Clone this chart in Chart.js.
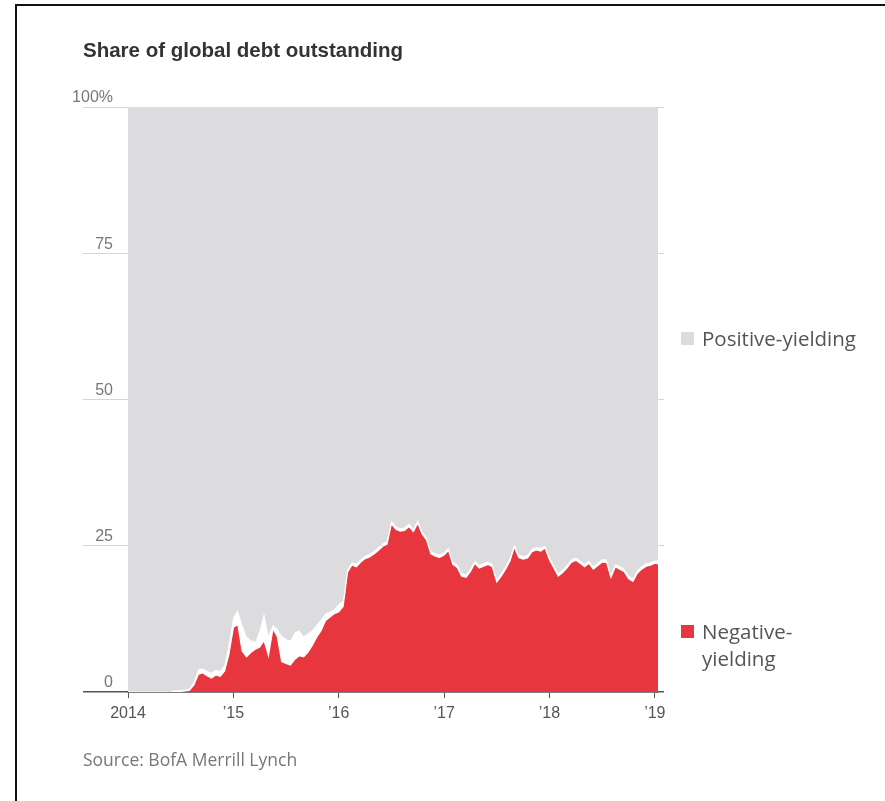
<!DOCTYPE html>
<html lang="en">
<head>
<meta charset="UTF-8">
<title>Share of global debt outstanding</title>
<script src="https://cdn.jsdelivr.net/npm/chart.js"></script>
<style>
    body { margin: 0; background: #fff; }
    .page { position: relative; width: 885px; height: 801px; overflow: hidden; }
    .frame { position: absolute; left: 15px; top: 4px; width: 900px; height: 900px;
             border-top: 2px solid #111; border-left: 2px solid #111; }
    #chart { position: absolute; left: 0; top: 0; }
    .title { position: absolute; left: 83px; top: 38px; font: bold 20.5px "Liberation Sans", Arial, sans-serif;
             color: #333; line-height: 24px; }
    .source { position: absolute; left: 83px; top: 747px; font: 17.5px "Open Sans", sans-serif;
              color: #777; line-height: 24px; }
    .key { position: absolute; left: 681px; font: 20.5px "Open Sans", sans-serif; color: #555; line-height: 27px; }
    .key i { position: absolute; left: 0; top: 7px; width: 13px; height: 13px; }
    .key span { display: block; margin-left: 21px; }
</style>
</head>
<body>
<div class="page">
    <canvas id="chart" width="885" height="801"></canvas>
    <div class="frame"></div>
    <div class="title">Share of global debt outstanding</div>
    <div class="key" style="top: 325px;"><i style="background:#dcdcde"></i><span>Positive-yielding</span></div>
    <div class="key" style="top: 618px;"><i style="background:#e8363f"></i><span>Negative-<br>yielding</span></div>
    <div class="source">Source: BofA Merrill Lynch</div>
</div>

<script>
    // half-month samples starting Jan 2014
    const firstYear = 2014;
    const stepsPerYear = 24;

    // share of debt with negative yields, %
    const negativeShare = [
        0, 0, 0, 0, 0, 0, 0, 0, 0, 0,
        0.05, 0.1, 0.1, 0.2, 0.3, 1.2, 3.0, 3.3, 2.8, 2.4, 2.9, 2.7, 3.6, 6.5,
        11.0, 11.6, 7.0, 6.0, 6.8, 7.3, 7.7, 8.8, 6.2, 10.8, 9.5, 5.2,
        4.9, 4.6, 5.6, 6.2, 6.0, 6.8, 8.0, 9.4, 10.5, 12.2, 12.8, 13.4,
        13.7, 14.6, 20.5, 21.7, 21.4, 22.2, 22.8, 23.1, 23.6, 24.2, 24.9, 25.3,
        28.8, 27.8, 27.5, 27.6, 28.3, 27.4, 28.9, 27.0, 26.0, 23.6, 23.2, 23.0,
        23.4, 24.2, 21.8, 21.3, 19.8, 19.6, 20.6, 22.0, 21.2, 21.5, 21.8, 21.4,
        18.8, 19.8, 21.0, 22.4, 24.8, 23.0, 22.7, 22.9, 24.0, 24.3, 24.1, 24.6,
        22.6, 21.2, 19.8, 20.4, 21.2, 22.2, 22.5, 22.0, 21.4, 22.0, 21.0, 21.6,
        22.2, 22.2, 19.6, 21.4, 21.0, 20.6, 19.4, 18.9, 20.3, 21.0, 21.5, 21.7,
        22.0, 21.9
    ];

    // lower edge of the positive-yielding share, %
    const positiveFloor = [
        0, 0, 0, 0, 0, 0, 0, 0, 0, 0,
        0.2, 0.3, 0.3, 0.4, 0.6, 1.7, 3.9, 4.0, 3.6, 3.3, 3.8, 3.6, 4.6, 8.5,
        12.8, 14.0, 11.5, 9.5, 8.8, 8.6, 10.5, 13.5, 9.6, 11.5, 10.8, 9.6,
        9.0, 8.8, 10.2, 10.5, 9.5, 10.0, 10.6, 11.5, 12.4, 13.4, 13.7, 14.2,
        15.0, 15.6, 21.0, 22.2, 21.9, 22.7, 23.3, 23.6, 24.1, 24.7, 25.4, 25.8,
        29.3, 28.3, 28.0, 28.1, 28.8, 27.9, 29.4, 27.5, 26.5, 24.1, 23.7, 23.5,
        23.9, 24.7, 22.3, 21.8, 20.3, 20.1, 21.1, 22.5, 21.7, 22.0, 22.3, 21.9,
        19.3, 20.3, 21.5, 22.9, 25.3, 23.5, 23.2, 23.4, 24.5, 24.8, 24.6, 25.1,
        23.1, 21.7, 20.3, 20.9, 21.7, 22.7, 23.0, 22.5, 21.9, 22.5, 21.5, 22.1,
        22.7, 22.7, 20.1, 21.9, 21.5, 21.1, 19.9, 19.4, 20.8, 21.5, 22.0, 22.2,
        22.5, 22.4
    ];

    const yearTicks = [2014, 2015, 2016, 2017, 2018, 2019];
    const yearLabels = ['2014', '\u201915', '\u201916', '\u201917', '\u201918', '\u201919'];
    const shareTicks = [0, 25, 50, 75, 100];
    const shareLabels = ['0', '25', '50', '75', '100%'];

    const toPoints = arr => arr.map((v, i) => ({ x: firstYear + i / stepsPerYear, y: v }));

    const tickFont = { family: '"Liberation Sans", Arial, sans-serif', size: 16 };
    // the zero line doubles as the dark baseline outside the plot
    const gridColor = ctx => (ctx.tick && ctx.tick.value === 0) ? '#555' : '#d6d6d6';
    const gridWidth = ctx => (ctx.tick && ctx.tick.value === 0) ? 1.5 : 1;

    new Chart(document.getElementById('chart'), {
        type: 'line',
        data: {
            datasets: [{
                label: 'Negative-yielding',
                data: toPoints(negativeShare),
                backgroundColor: '#e8363f',
                borderColor: '#ffffff',
                borderWidth: 1.2,
                fill: 'origin',
                pointRadius: 0,
                tension: 0
            }, {
                label: 'Positive-yielding',
                data: toPoints(positiveFloor),
                backgroundColor: '#dcdcde',
                borderWidth: 0,
                fill: 'end',
                pointRadius: 0,
                tension: 0
            }]
        },
        options: {
            responsive: false,
            animation: false,
            events: [],
            layout: { padding: { left: 68, right: 221, top: 107, bottom: 69 } },
            plugins: { legend: { display: false }, tooltip: { enabled: false } },
            scales: {
                x: {
                    type: 'linear',
                    min: 2014,
                    max: 2019.03,
                    z: 1,
                    border: { color: '#555', width: 1.5 },
                    grid: { drawOnChartArea: false, tickLength: 6, color: '#555' },
                    afterFit: s => { s.height = 40; },
                    afterBuildTicks: s => { s.ticks = yearTicks.map(v => ({ value: v })); },
                    ticks: {
                        autoSkip: false,
                        maxRotation: 0,
                        padding: 6,
                        color: '#555',
                        font: tickFont,
                        callback: v => yearLabels[yearTicks.indexOf(v)]
                    }
                },
                y: {
                    min: 0,
                    max: 100,
                    border: { display: false },
                    grid: { tickLength: 45, color: gridColor, lineWidth: gridWidth },
                    afterFit: s => { s.width = 60; },
                    afterBuildTicks: s => { s.ticks = shareTicks.map(v => ({ value: v })); },
                    ticks: {
                        padding: -30,
                        labelOffset: -9,
                        color: '#777',
                        font: tickFont,
                        callback: v => shareLabels[shareTicks.indexOf(v)]
                    }
                },
                yRight: {
                    position: 'right',
                    min: 0,
                    max: 100,
                    border: { display: false },
                    grid: { drawOnChartArea: false, tickLength: 6, color: gridColor, lineWidth: gridWidth },
                    afterFit: s => { s.width = 6; },
                    afterBuildTicks: s => { s.ticks = shareTicks.map(v => ({ value: v })); },
                    ticks: { display: false }
                }
            }
        }
    });
</script>
</body>
</html>
